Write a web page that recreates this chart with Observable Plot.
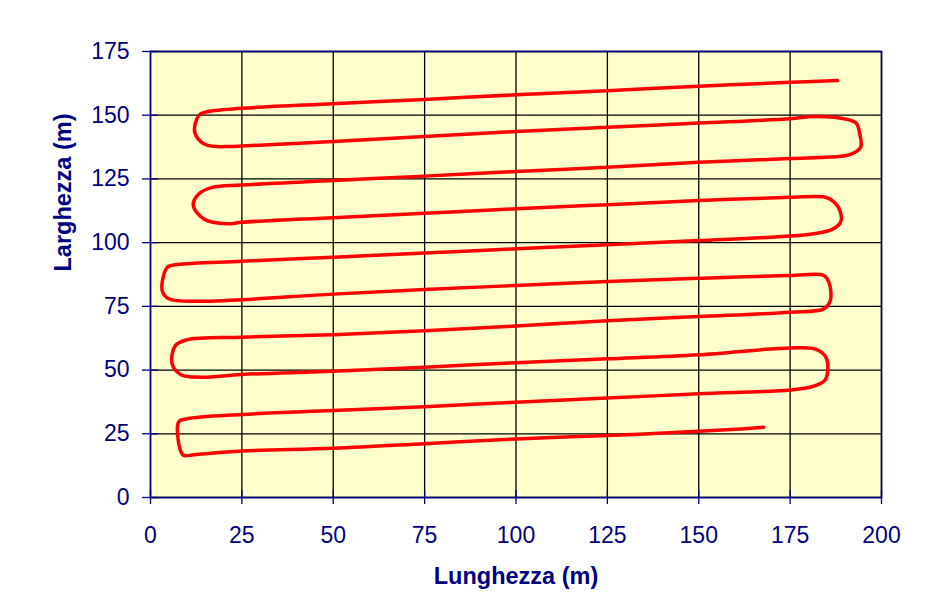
<!DOCTYPE html>
<html>
<head>
<meta charset="utf-8">
<script src="https://cdn.jsdelivr.net/npm/d3@7"></script>
<script src="https://cdn.jsdelivr.net/npm/@observablehq/plot@0.6"></script>
<style>
  html, body { margin: 0; padding: 0; background: #ffffff; overflow: hidden; }
  #chart svg { display: block; }
</style>
</head>
<body>
<div id="chart"></div>
<script>
// Tracked path: Lunghezza (x, m) and Larghezza (y, m)
const lunghezza = [
  167.8, 161.4, 150, 125, 100, 75, 50, 25, 12, 9.1, 8.2, 7.7, 10.0,
  25, 50, 75, 100, 125, 150, 175, 181, 184.5, 185.3, 184.8, 182, 175,
  150, 125, 100, 75, 50, 25, 13.7, 8.2, 5.9, 6.8, 10.0,
  25, 50, 75, 100, 125, 150, 175, 184.2, 186.0, 185.6, 184.2, 175,
  150, 125, 100, 75, 50, 25, 13.7, 5.0, 3.2, 4.6, 7.3,
  25, 50, 75, 100, 125, 150, 175, 182, 186.5, 188.8, 188.5, 186, 184, 175,
  150, 125, 100, 75, 50, 25, 21.0, 14.6, 11.7, 13.2, 16.9,
  25, 50, 75, 100, 125, 150, 175, 186, 191.5, 194.3, 194, 193, 189, 181.4, 175,
  150, 125, 100, 75, 50, 25, 21.9, 15, 12.1, 13.2, 15.0,
  25, 50, 75, 100, 125, 150, 175, 188.0
];
const larghezza = [
  27.6, 26.9, 26.0, 24.3, 23.0, 21.1, 19.3, 18.2, 16.8, 16.5, 18.4, 29.6, 30.9,
  32.6, 34.1, 35.6, 37.4, 39.0, 40.7, 42.2, 43.5, 46, 49.8, 55, 58.2, 58.7,
  56.0, 54.4, 52.9, 51.1, 49.5, 48.3, 47.2, 48.3, 52.5, 59.6, 61.9,
  62.9, 63.9, 65.4, 67.3, 69.4, 71.0, 72.7, 74.0, 77.3, 84.5, 87.1, 87.1,
  86.0, 84.8, 83.2, 81.6, 79.8, 77.6, 77.0, 78.0, 81.2, 90.3, 91.4,
  92.7, 94.3, 95.9, 97.6, 99.2, 100.8, 102.6, 103.6, 105.2, 108, 113, 117, 118.0, 117.8,
  116.5, 114.9, 113.3, 111.5, 109.8, 108.0, 107.4, 109.3, 114.6, 119.1, 121.7,
  122.6, 124.4, 126.1, 127.9, 129.6, 131.5, 133.0, 133.6, 134.6, 137.4, 143, 147, 148.8, 149.5, 148.6,
  146.9, 145.3, 143.6, 141.6, 139.7, 137.9, 137.7, 138.5, 143.3, 149.9, 151.2,
  152.7, 154.5, 156.2, 158.0, 159.6, 161.4, 162.9, 163.6
];
const xTicks = [0, 25, 50, 75, 100, 125, 150, 175, 200];
const yTicks = [0, 25, 50, 75, 100, 125, 150, 175];
const xTitle = "Lunghezza (m)";
const yTitle = "Larghezza (m)";

const navy = "#000080";
const points = lunghezza.map((x, i) => ({x, y: larghezza[i]}));

const chart = Plot.plot({
  width: 949,
  height: 607,
  marginLeft: 150,
  marginRight: 68,
  marginTop: 51,
  marginBottom: 110,
  style: {color: navy, background: "#ffffff", fontFamily: "'Liberation Sans', Arial, sans-serif", overflow: "visible"},
  x: {domain: [0, 200], axis: null},
  y: {domain: [0, 175], axis: null},
  marks: [
    Plot.frame({fill: "#ffffcc", stroke: null}),
    Plot.ruleX(xTicks, {stroke: "#000000", strokeWidth: 1.3}),
    Plot.ruleY(yTicks, {stroke: "#000000", strokeWidth: 1.3}),
    Plot.line(points, {x: "x", y: "y", stroke: "#ff0000", strokeWidth: 3.5, curve: "catmull-rom", strokeLinejoin: "round", strokeLinecap: "round"}),
    Plot.frame({stroke: navy, strokeWidth: 1.6}),
    Plot.axisX({ticks: xTicks, tickSize: 14, dy: -7, tickFormat: () => "", label: null, stroke: navy, strokeWidth: 1.3}),
    Plot.axisY({ticks: yTicks, tickSize: 16, dx: 8, tickFormat: () => "", label: null, stroke: navy, strokeWidth: 1.3}),
    Plot.axisX({ticks: xTicks, tickSize: 0, tickPadding: 29, fontSize: 23, label: null, fill: navy}),
    Plot.axisY({ticks: yTicks, tickSize: 0, tickPadding: 21, fontSize: 23, label: null, fill: navy}),
    Plot.text([xTitle], {frameAnchor: "bottom", dy: 86, fontSize: 23.5, fontWeight: "bold", fill: navy}),
    Plot.text([yTitle], {frameAnchor: "left", dx: -87, dy: -3, rotate: -90, fontSize: 23.5, fontWeight: "bold", fill: navy})
  ]
});
document.getElementById("chart").appendChild(chart);
</script>
</body>
</html>
